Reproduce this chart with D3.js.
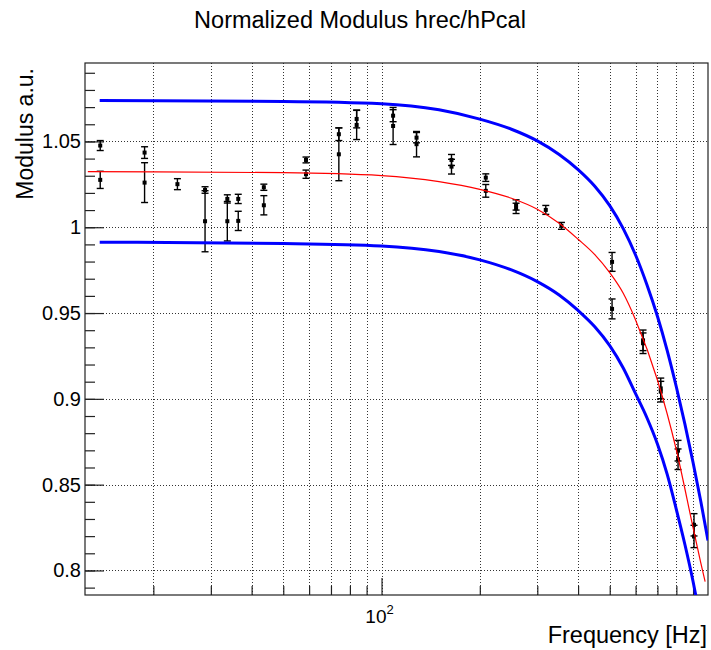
<!DOCTYPE html>
<html>
  <head>
    <title>Normalized Modulus</title>
    <script src="https://cdn.jsdelivr.net/npm/d3@7"></script>
    <style>
      body { margin: 0; background: #fff; }
      text { font-family: "Liberation Sans", Arial, Helvetica, sans-serif; fill: #000; }
    </style>
  </head>
  <body>
    <svg width="711" height="650" id="mainsvg"></svg>
    <script>
    // measured points (two measurements per line where present)
    const freqHz = [13.75, 18.8, 23.7, 28.8, 33.7, 36.4, 43.6, 58.7, 74.0, 83.9, 108.5, 128.0,
                    163.8, 208.6, 258.3, 318.5, 355.7, 508.3, 632.4, 716.6, 809.5, 906.0];
    const modA = [1.0476, 1.0435, 1.0251, 1.0217, 1.0165, 1.0165, 1.0233, 1.0392, 1.0542, 1.0631, 1.0650, 1.0522,
                  1.0392, 1.0289, 1.0130, 1.0101, 1.0008, 0.9798, 0.9341, 0.9061, 0.8698, 0.8266];
    const errA = [0.0029, 0.0034, 0.0032, 0.0019, 0.0024, 0.0027, 0.0018, 0.0017, 0.0037, 0.0052, 0.0035, 0.0030,
                  0.0032, 0.0022, 0.0030, 0.0026, 0.0020, 0.0055, 0.0060, 0.0060, 0.0060, 0.0065];
    const modB = [1.0276, 1.0260, null, 1.0035, 1.0035, 1.0037, 1.0128, 1.0309, 1.0425, 1.0596, 1.0590, 1.0484,
                  1.0353, 1.0212, 1.0110, null, null, 0.9524, 0.9324, 0.9042, 0.8648, 0.8198];
    const errB = [0.0050, 0.0116, null, 0.0178, 0.0115, 0.0056, 0.0056, 0.0024, 0.0154, 0.0085, 0.0108, 0.0074,
                  0.0043, 0.0037, 0.0030, null, null, 0.0058, 0.0060, 0.0060, 0.0060, 0.0065];

    // fitted curve and its +/- band
    const fitFreq = [12.6, 50, 100, 150, 200, 250, 300, 350, 400, 450, 500, 550, 600, 700, 800, 900, 950, 980];
    const fitMod = [1.0324, 1.0318, 1.0301, 1.0266, 1.0221, 1.0169, 1.0105, 1.0023, 0.9930, 0.9840, 0.9735, 0.9615,
                    0.9460, 0.9110, 0.8702, 0.8250, 0.8045, 0.7935];
    const upFreq = [13.7, 50, 100, 150, 200, 250, 300, 350, 400, 450, 500, 550, 600, 650, 700, 750, 800, 850, 900, 950, 1000];
    const upMod = [1.0738, 1.0733, 1.0720, 1.0684, 1.0630, 1.0571, 1.0503, 1.0424, 1.0336, 1.0239, 1.0126, 0.9992,
                   0.9838, 0.9665, 0.9481, 0.9281, 0.9069, 0.8851, 0.8629, 0.8405, 0.8175];
    const lowFreq = [13.7, 50, 100, 150, 200, 250, 300, 350, 400, 450, 500, 550, 600, 650, 700, 750, 800, 850, 900, 950];
    const lowMod = [0.9913, 0.9905, 0.9891, 0.9858, 0.9810, 0.9751, 0.9683, 0.9605, 0.9515, 0.9420, 0.9310, 0.9180,
                    0.9030, 0.8890, 0.8737, 0.8560, 0.8355, 0.8150, 0.7936, 0.7700];

    const xMinorTicks = [20, 30, 40, 50, 60, 70, 80, 90, 200, 300, 400, 500, 600, 700, 800, 900];
    const xGridTicks = xMinorTicks.concat([100]);
    const yMajorTicks = [0.8, 0.85, 0.9, 0.95, 1.0, 1.05];
    const yMinorTicks = d3.range(79, 110).map(d => d / 100);

    let svg = d3.select('#mainsvg');
    const pLeft = 85, pRight = 708, pTop = 63, pBottom = 595;

    let x = d3.scaleLog().domain([12.35, 1000]).range([pLeft, pRight]);
    let y = d3.scaleLinear().domain([0.7857, 1.0957]).range([pBottom, pTop]);

    svg.append('rect').attr('width', 711).attr('height', 650).attr('fill', '#fff');

    svg.append('clipPath').attr('id', 'clip')
      .append('rect').attr('x', pLeft).attr('y', pTop).attr('width', pRight - pLeft).attr('height', pBottom - pTop);

    // grid
    let grid = svg.append('g').attr('stroke', '#333').attr('stroke-width', 1).attr('stroke-dasharray', '1,2');
    grid.selectAll('.vg').data(xGridTicks).join('line')
      .attr('x1', d => Math.round(x(d)) + 0.5).attr('x2', d => Math.round(x(d)) + 0.5)
      .attr('y1', pTop).attr('y2', pBottom);
    grid.selectAll('.hg').data(yMajorTicks).join('line')
      .attr('y1', d => Math.round(y(d)) + 0.5).attr('y2', d => Math.round(y(d)) + 0.5)
      .attr('x1', pLeft).attr('x2', pRight);

    // axes with inward ticks
    const styleAxis = g => {
      g.select('.domain').remove();
      g.selectAll('.tick line').attr('stroke', '#222').attr('stroke-width', 1.2);
    };
    svg.append('g').attr('transform', `translate(0,${pBottom})`)
      .call(d3.axisBottom(x).tickValues(xMinorTicks).tickSize(-9).tickFormat(''))
      .call(styleAxis);
    svg.append('g').attr('transform', `translate(0,${pBottom})`)
      .call(d3.axisBottom(x).tickValues([100]).tickSize(-17).tickFormat(''))
      .call(styleAxis);
    svg.append('g').attr('transform', `translate(${pLeft},0)`)
      .call(d3.axisLeft(y).tickValues(yMinorTicks).tickSize(-10).tickFormat(''))
      .call(styleAxis);
    svg.append('g').attr('transform', `translate(${pLeft},0)`)
      .call(d3.axisLeft(y).tickValues(yMajorTicks).tickSize(-19).tickPadding(4).tickFormat(d3.format('~g')))
      .call(styleAxis)
      .call(g => g.selectAll('.tick text').attr('font-size', 20).attr('fill', '#000')
        .style('font-family', '"Liberation Sans", Arial, sans-serif'));

    // 10^2 label
    let lab = svg.append('text').attr('x', x(100) - 2).attr('y', 623).attr('text-anchor', 'middle').attr('font-size', 19);
    lab.append('tspan').text('10');
    lab.append('tspan').attr('dy', -9).attr('font-size', 13).text('2');

    // frame
    svg.append('rect').attr('x', pLeft).attr('y', pTop).attr('width', pRight - pLeft).attr('height', pBottom - pTop)
      .attr('fill', 'none').attr('stroke', '#222').attr('stroke-width', 1.2);

    // data points with error bars
    const drawSeries = (vals, errs) => {
      const pts = freqHz.map((f, i) => ({f: f, v: vals[i], e: errs[i]})).filter(d => d.v !== null);
      let g = svg.append('g').attr('stroke', '#000').attr('stroke-width', 1.4);
      g.selectAll('.bar').data(pts).join('line')
        .attr('x1', d => x(d.f)).attr('x2', d => x(d.f))
        .attr('y1', d => y(d.v - d.e)).attr('y2', d => y(d.v + d.e));
      g.selectAll('.capt').data(pts).join('line')
        .attr('x1', d => x(d.f) - 3.5).attr('x2', d => x(d.f) + 3.5)
        .attr('y1', d => y(d.v + d.e)).attr('y2', d => y(d.v + d.e));
      g.selectAll('.capb').data(pts).join('line')
        .attr('x1', d => x(d.f) - 3.5).attr('x2', d => x(d.f) + 3.5)
        .attr('y1', d => y(d.v - d.e)).attr('y2', d => y(d.v - d.e));
      svg.append('g').selectAll('rect').data(pts).join('rect')
        .attr('x', d => x(d.f) - 2).attr('y', d => y(d.v) - 2)
        .attr('width', 4).attr('height', 4).attr('fill', '#000');
    };
    drawSeries(modA, errA);
    drawSeries(modB, errB);

    // curves
    const line = d3.line().x(d => x(d[0])).y(d => y(d[1])).curve(d3.curveMonotoneX);
    let curves = svg.append('g').attr('clip-path', 'url(#clip)').attr('fill', 'none');
    curves.append('path').datum(upFreq.map((f, i) => [f, upMod[i]]))
      .attr('d', line).attr('stroke', '#0000ff').attr('stroke-width', 3);
    curves.append('path').datum(lowFreq.map((f, i) => [f, lowMod[i]]))
      .attr('d', line).attr('stroke', '#0000ff').attr('stroke-width', 3);
    curves.append('path').datum(fitFreq.map((f, i) => [f, fitMod[i]]))
      .attr('d', line).attr('stroke', '#ff0000').attr('stroke-width', 1.2);

    // titles
    svg.append('text').attr('x', 360).attr('y', 28).attr('text-anchor', 'middle').attr('font-size', 23.5)
      .text('Normalized Modulus hrec/hPcal');
    svg.append('text').attr('transform', 'translate(33,68) rotate(-90)').attr('text-anchor', 'end')
      .attr('font-size', 23).text('Modulus a.u.');
    svg.append('text').attr('x', 707).attr('y', 643).attr('text-anchor', 'end').attr('font-size', 23.5)
      .text('Frequency [Hz]');
    </script>
  </body>
</html>
